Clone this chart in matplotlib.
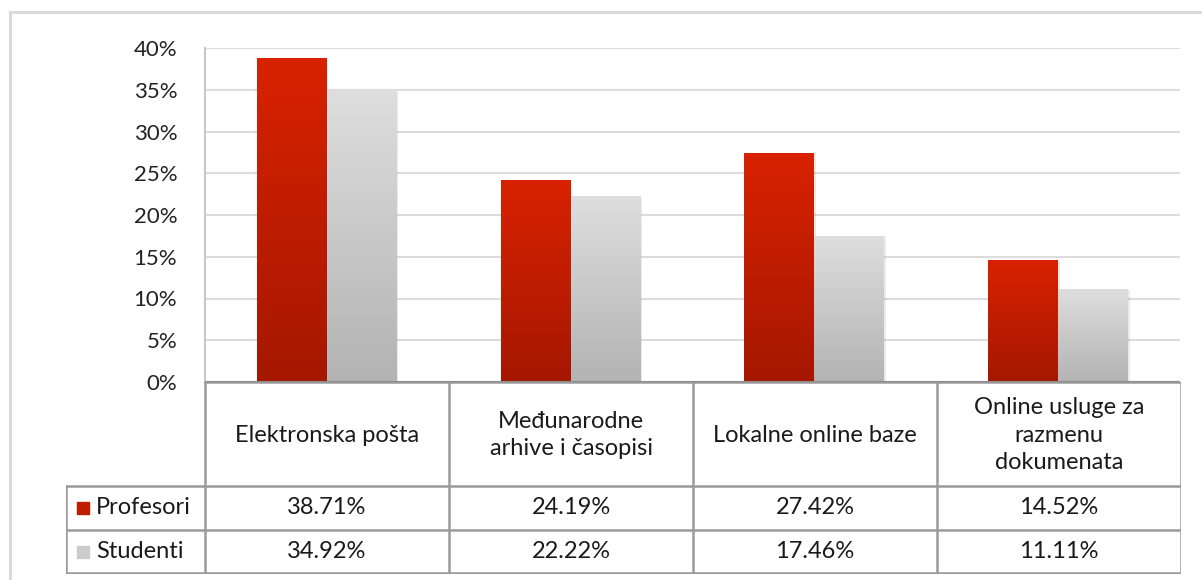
import numpy as np
import matplotlib.pyplot as plt
from matplotlib.patches import Rectangle
from matplotlib.lines import Line2D

plt.rcParams['font.family'] = ['Lato', 'DejaVu Sans']

categories = ['Elektronska pošta', 'Međunarodne\narhive i časopisi',
              'Lokalne online baze', 'Online usluge za\nrazmenu\ndokumenata']
series = ['Profesori', 'Studenti']
profesori = [38.71, 24.19, 27.42, 14.52]
studenti = [34.92, 22.22, 17.46, 11.11]
yticks = [0, 5, 10, 15, 20, 25, 30, 35, 40]

W, H = 1202, 580
fig = plt.figure(figsize=(W / 100, H / 100), dpi=100)

def px_axes(x0, y0, x1, y1):
    return fig.add_axes([x0 / W, 1 - y1 / H, (x1 - x0) / W, (y1 - y0) / H])

# outer frame
fig.patches.append(Rectangle((10 / W, -0.1), 1.2, 1 - 12 / H + 0.1, transform=fig.transFigure,
                             fill=False, edgecolor='#dadada', linewidth=2.2))

# bar area
ax = px_axes(205, 48, 1180, 382)
ax.set_xlim(-0.5, 3.5)
ax.set_ylim(0, 40)
ax.set_yticks(yticks)
ax.set_yticklabels([f'{t}%' for t in yticks], fontsize=16, color='#222222')
ax.tick_params(axis='y', length=0, pad=20)
ax.set_xticks([])
for s in ['top', 'right', 'bottom']:
    ax.spines[s].set_visible(False)
ax.spines['left'].set_color('#c8c8c8')
ax.spines['left'].set_linewidth(1.5)
ax.yaxis.grid(True, color='#dcdcdc', linewidth=1.5)
ax.set_axisbelow(True)

x = np.arange(len(categories))
bw = 0.287
grad = np.linspace(0, 1, 256).reshape(-1, 1)
red_cmap = plt.matplotlib.colors.LinearSegmentedColormap.from_list('r', ['#a51700', '#d82200'])
gray_cmap = plt.matplotlib.colors.LinearSegmentedColormap.from_list('g', ['#b3b3b3', '#dedede'])

b1 = ax.bar(x - bw / 2, profesori, bw, color='none', zorder=3)
b2 = ax.bar(x + bw / 2, studenti, bw, color='none', zorder=3)
for bars, cmap in [(b1, red_cmap), (b2, gray_cmap)]:
    for b in bars:
        x0, w, h = b.get_x(), b.get_width(), b.get_height()
        # soft shadow
        ax.add_patch(Rectangle((x0 + 0.006, 0), w, h - 0.15, color='#000000', alpha=0.08,
                               zorder=2, linewidth=0))
        ax.imshow(grad, extent=(x0, x0 + w, 0, h), origin='lower', cmap=cmap,
                  aspect='auto', zorder=3)
ax.axhline(0, color='#8c8c8c', linewidth=1.5, zorder=5)
ax.set_xlim(-0.5, 3.5)
ax.set_ylim(0, 40)

# data table
tax = px_axes(66, 382, 1181, 574)
col_w = 975 / 4
left = -0.5 - 139 / col_w
tax.set_xlim(left, 3.5)
tax.set_ylim(574, 382)
tax.axis('off')
lc = '#9a9a9a'
lw = 1.8
rows_y = [382, 486, 530, 573]

def seg(xs, ys):
    tax.add_line(Line2D(xs, ys, color=lc, linewidth=lw, solid_capstyle='projecting'))

# horizontal lines
seg([-0.5, 3.5], [rows_y[0], rows_y[0]])
for yy in rows_y[1:]:
    seg([left, 3.5], [yy, yy])
# vertical lines
for xv in np.arange(-0.5, 3.6, 1.0):
    seg([xv, xv], [rows_y[0], rows_y[-1]])
seg([left, left], [rows_y[1], rows_y[-1]])

fs = 17
for i, c in enumerate(categories):
    tax.text(i, (rows_y[0] + rows_y[1]) / 2 + 1, c, ha='center', va='center', fontsize=fs,
             color='#1a1a1a', linespacing=1.4)

for r, (name, vals, col) in enumerate([(series[0], profesori, '#c01c00'),
                                        (series[1], studenti, '#cccccc')]):
    yc = (rows_y[r + 1] + rows_y[r + 2]) / 2
    tax.add_patch(Rectangle((left + 11 / col_w, yc - 6), 12 / col_w, 12, color=col))
    tax.text(left + 30 / col_w, yc, name, ha='left', va='center', fontsize=fs, color='#1a1a1a')
    for i, v in enumerate(vals):
        tax.text(i, yc, f'{v:.2f}%', ha='center', va='center', fontsize=fs, color='#1a1a1a')

fig.savefig('out.png', dpi=100)
